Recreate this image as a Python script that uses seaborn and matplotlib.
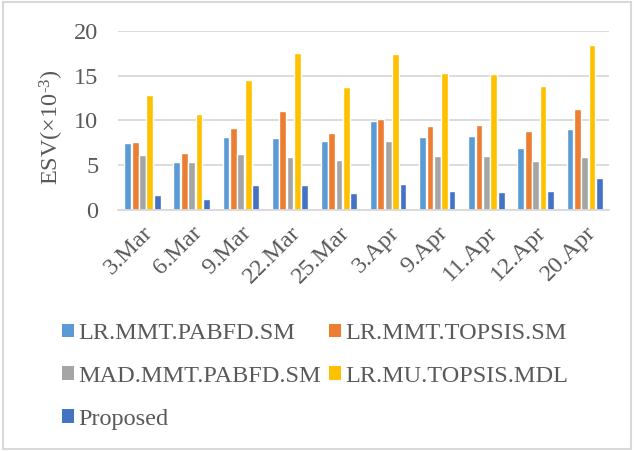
import matplotlib
matplotlib.use("Agg")
import matplotlib.pyplot as plt
import seaborn as sns
import pandas as pd
from matplotlib.patches import Rectangle, Patch

dates = ["3.Mar", "6.Mar", "9.Mar", "22.Mar", "25.Mar",
         "3.Apr", "9.Apr", "11.Apr", "12.Apr", "20.Apr"]
methods = ["LR.MMT.PABFD.SM", "LR.MMT.TOPSIS.SM", "MAD.MMT.PABFD.SM",
           "LR.MU.TOPSIS.MDL", "Proposed"]
lr_mmt_pabfd = [7.5, 5.3, 8.1, 8.0, 7.7, 9.9, 8.1, 8.3, 6.9, 9.0]
lr_mmt_topsis = [7.6, 6.4, 9.2, 11.0, 8.6, 10.2, 9.4, 9.5, 8.8, 11.3]
mad_mmt_pabfd = [6.1, 5.3, 6.2, 5.9, 5.6, 7.7, 6.0, 6.0, 5.5, 5.9]
lr_mu_topsis = [12.8, 10.7, 14.5, 17.5, 13.7, 17.4, 15.3, 15.2, 13.9, 18.5]
proposed = [1.7, 1.2, 2.8, 2.8, 1.9, 2.9, 2.1, 2.0, 2.1, 3.6]
colors = ["#5B9BD5", "#ED7D31", "#A5A5A5", "#FFC000", "#4472C4"]

series = [lr_mmt_pabfd, lr_mmt_topsis, mad_mmt_pabfd, lr_mu_topsis, proposed]
rows = []
for m, vals in zip(methods, series):
    for d, v in zip(dates, vals):
        rows.append({"date": d, "method": m, "esv": v})
df = pd.DataFrame(rows)

sns.set_theme(style="white")
plt.rcParams["font.family"] = ["Liberation Serif", "DejaVu Serif"]
plt.rcParams["mathtext.fontset"] = "custom"
plt.rcParams["mathtext.rm"] = "Liberation Serif"
plt.rcParams["mathtext.it"] = "Liberation Serif:italic"

text_color = "#595959"
grid_color = "#D9D9D9"
fs = 17.5

fig = plt.figure(figsize=(6.34, 4.51), dpi=100)
ax = fig.add_axes([0.186, 0.535, 0.775, 0.396])

sns.barplot(data=df, x="date", y="esv", hue="method", order=dates,
            hue_order=methods, palette=colors, width=0.75, gap=0.08,
            saturation=1, ax=ax, legend=False, errorbar=None)

ax.set_ylim(0, 20)
ax.set_yticks([0, 5, 10, 15, 20])
ax.set_xlim(-0.5, len(dates) - 0.5)
ax.yaxis.grid(True, color=grid_color, linewidth=1.3)
ax.set_axisbelow(True)
for s in ["top", "right", "left"]:
    ax.spines[s].set_visible(False)
ax.spines["bottom"].set_color(grid_color)
ax.spines["bottom"].set_linewidth(1.3)
ax.tick_params(axis="y", length=0, labelsize=fs, colors=text_color, pad=14)
ax.tick_params(axis="x", length=0, labelsize=fs, colors=text_color, pad=9)
plt.setp(ax.get_xticklabels(), rotation=45, ha="right", rotation_mode="anchor")
ax.set_xlabel("")
ax.set_ylabel("ESV(×10$^{\\text{-3}}$)", fontsize=fs, color=text_color,
              va="center", ha="center")
ax.yaxis.set_label_coords(-0.134, 0.46)

# row-major legend order for two columns
handles = [Patch(facecolor=c, edgecolor="none") for c in colors]
order = [0, 2, 4, 1, 3]
fig.legend([handles[i] for i in order], [methods[i] for i in order],
           loc="upper left", bbox_to_anchor=(0.082, 0.305),
           ncol=2, frameon=False, fontsize=fs, labelcolor=text_color,
           handlelength=0.5, handleheight=0.5, handletextpad=0.2,
           columnspacing=0.3, labelspacing=0.9, borderaxespad=0)

fig.patches.append(Rectangle((0.004, 0.005), 0.992, 0.99, transform=fig.transFigure,
                             fill=False, edgecolor=grid_color, linewidth=1.5))

fig.savefig("out.png", dpi=100, facecolor="white")
